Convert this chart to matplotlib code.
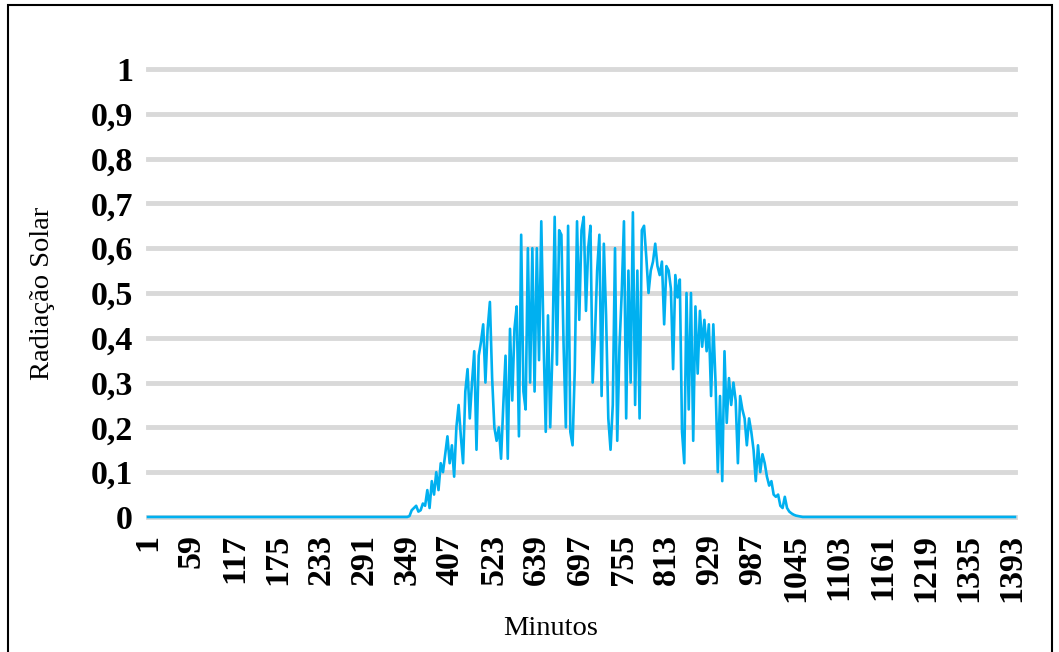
import numpy as np
import matplotlib.pyplot as plt
from matplotlib.patches import Rectangle

plt.rcParams['font.family'] = ['Liberation Serif', 'DejaVu Serif']

# category axis: one point per row of the sheet, labels every 58 rows
n_rows = 1165
tick_step = 58
tick_labels = ['1', '59', '117', '175', '233', '291', '349', '407', '523', '639', '697',
               '755', '813', '929', '987', '1045', '1103', '1161', '1219', '1335', '1393']

# daylight part, every 3 rows starting at row 336
day_start = 336
day_step = 3
day_values = [
    0, 0, 0, 0, 0, 0.002, 0.015, 0.02, 0.025, 0.012,
    0.015, 0.03, 0.025, 0.06, 0.02, 0.08, 0.05, 0.1, 0.06, 0.12,
    0.1, 0.14, 0.18, 0.12, 0.16, 0.09, 0.2, 0.25, 0.18, 0.12,
    0.28, 0.33, 0.22, 0.3, 0.37, 0.15, 0.36, 0.39, 0.43, 0.3,
    0.42, 0.48, 0.31, 0.2, 0.17, 0.2, 0.13, 0.25, 0.36, 0.13,
    0.42, 0.26, 0.42, 0.47, 0.18, 0.63, 0.28, 0.24, 0.6, 0.3,
    0.6, 0.28, 0.6, 0.35, 0.66, 0.4, 0.19, 0.45, 0.2, 0.37,
    0.67, 0.34, 0.64, 0.63, 0.38, 0.2, 0.65, 0.19, 0.16, 0.33,
    0.66, 0.44, 0.64, 0.67, 0.46, 0.6, 0.65, 0.3, 0.4, 0.55,
    0.63, 0.27, 0.61, 0.45, 0.22, 0.15, 0.25, 0.6, 0.17, 0.38,
    0.5, 0.66, 0.22, 0.55, 0.3, 0.68, 0.25, 0.55, 0.22, 0.64,
    0.65, 0.58, 0.5, 0.55, 0.57, 0.61, 0.56, 0.54, 0.57, 0.43,
    0.56, 0.55, 0.51, 0.33, 0.54, 0.49, 0.53, 0.19, 0.12, 0.5,
    0.24, 0.5, 0.17, 0.47, 0.32, 0.46, 0.38, 0.44, 0.37, 0.43,
    0.27, 0.43, 0.3, 0.1, 0.27, 0.08, 0.37, 0.21, 0.31, 0.25,
    0.3, 0.26, 0.12, 0.27, 0.24, 0.22, 0.16, 0.22, 0.19, 0.15,
    0.08, 0.16, 0.1, 0.14, 0.12, 0.09, 0.07, 0.08, 0.05, 0.045,
    0.05, 0.025, 0.02, 0.045, 0.02, 0.012, 0.008, 0.005, 0.003, 0.002,
    0.001, 0, 0,
]

day_x = day_start + day_step * np.arange(len(day_values))
day_end = day_x[-1] + 1
x = np.concatenate([np.arange(0, day_start), day_x, np.arange(day_end, n_rows)])
y = np.concatenate([np.zeros(day_start), day_values, np.zeros(n_rows - day_end)])

fig = plt.figure(figsize=(10.59, 6.52), dpi=100)
ax = fig.add_axes([0.1398, 0.2071, 0.8186, 0.6871])

ax.plot(x, y, color='#00B0F0', lw=1.9, zorder=3, clip_on=False)

ax.set_xlim(0, n_rows - 1)
ax.set_ylim(0, 1)
ax.set_yticks(np.arange(0, 1.01, 0.1))
ax.set_yticklabels(['0', '0,1', '0,2', '0,3', '0,4', '0,5', '0,6', '0,7', '0,8', '0,9', '1'])
ax.set_xticks(np.arange(len(tick_labels)) * tick_step)
ax.set_xticklabels(tick_labels, rotation=90)

for lab in ax.get_xticklabels() + ax.get_yticklabels():
    lab.set_fontweight('bold')
    lab.set_fontsize(24.5)
ax.tick_params(axis='y', length=0, pad=11)
ax.tick_params(axis='x', length=0, pad=12)

ax.grid(axis='y', color='#D9D9D9', lw=3.5)
for gl in ax.get_ygridlines():
    gl.set_clip_on(False)
ax.set_axisbelow(True)
for s in ax.spines.values():
    s.set_visible(False)

ax.set_ylabel('Radiação Solar', fontsize=20.5)
ax.yaxis.set_label_coords(-0.107, 0.5)
ax.set_xlabel('Minutos', fontsize=20.5)
ax.xaxis.set_label_coords(0.464, -0.22)

fig.add_artist(Rectangle((8 / 1059, -0.01), 1044 / 1059, 1.01 - 5 / 652,
                         transform=fig.transFigure, fill=False, ec='black', lw=1.5))

fig.savefig('out.png', dpi=100)
